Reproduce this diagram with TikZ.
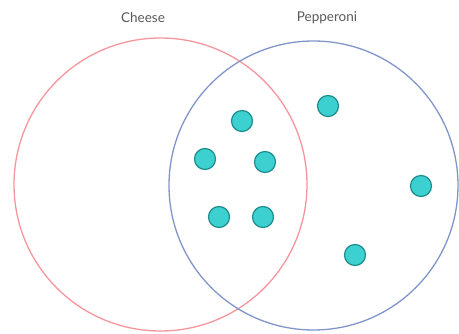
\documentclass[tikz,border=0pt]{standalone}
\usepackage{fontspec}
\setmainfont{Lato}
\usepackage{tikz}
\definecolor{cheeseRed}{HTML}{F6959B}
\definecolor{pepBlue}{HTML}{8096CA}
\definecolor{dotFill}{HTML}{3DD0D0}
\definecolor{dotEdge}{HTML}{1C8C8C}
\tikzset{
  setcirc/.style={circle, draw, line width=1.3pt, inner sep=0pt},
  topping/.style={circle, draw=dotEdge, fill=dotFill, line width=1.2pt, minimum size=21pt, inner sep=0pt},
  setlabel/.style={text=black!65, font=\fontsize{13.5}{15}\selectfont}
}
\begin{document}
\begin{tikzpicture}[x=1pt, y=-1pt]
  \useasboundingbox (0,0) rectangle (459,334);
  \node[setcirc, draw=cheeseRed, minimum size=293pt] (cheese) at (160.5,184.5) {};
  \node[setcirc, draw=pepBlue, minimum size=289pt] (pepperoni) at (313.5,185.5) {};
  \node[setlabel] (cheeselbl) at (143,18) {Cheese};
  \node[setlabel] (peplbl) at (327,18) {Pepperoni};
  \foreach \name/\px/\py in {t1/242/121, t2/205/159, t3/265/162, t4/219/217, t5/263/217, t6/328/106, t7/421/186, t8/355/255}
    \node[topping] (\name) at (\px,\py) {};
\end{tikzpicture}
\end{document}
